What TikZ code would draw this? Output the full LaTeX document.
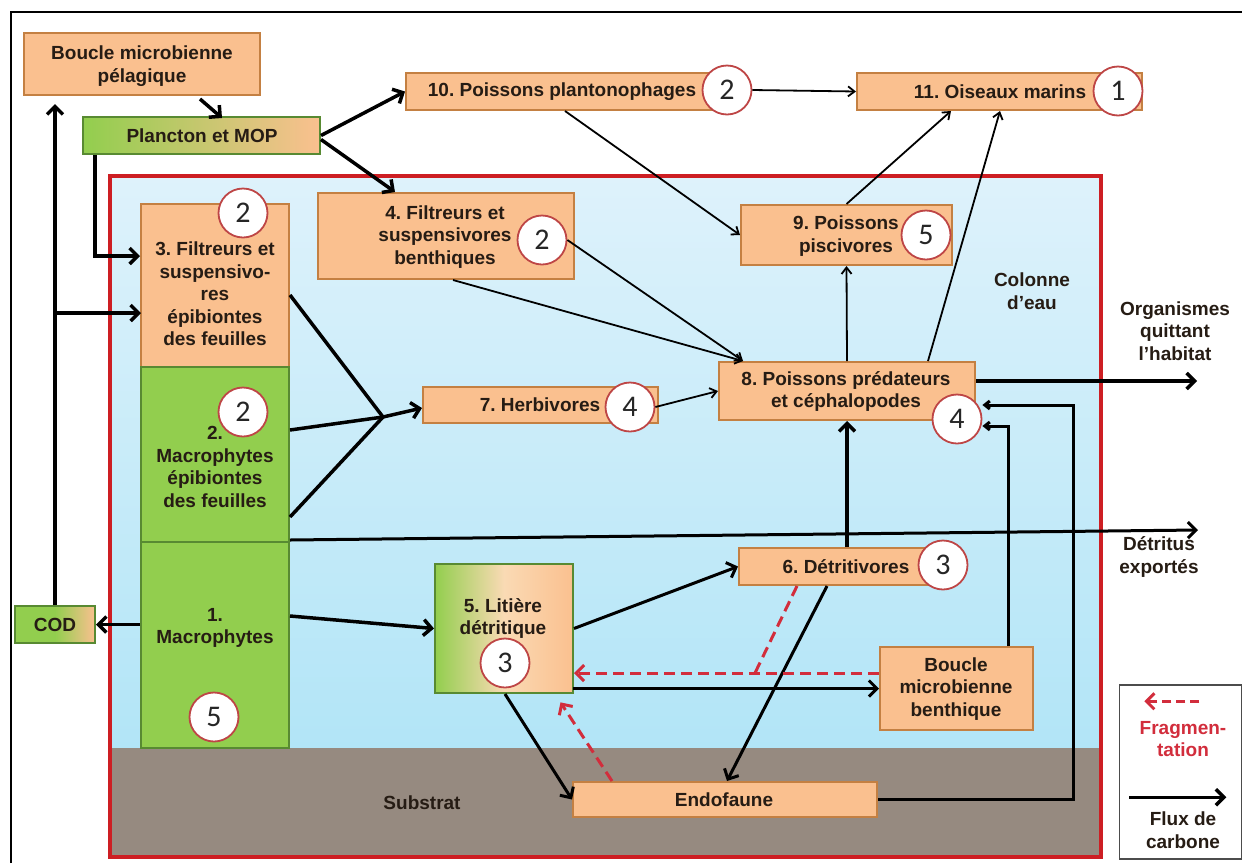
\documentclass[tikz,border=0pt]{standalone}
\usepackage{fontspec}
\setmainfont{Liberation Sans}
\newfontfamily\numfont{Carlito}
\usetikzlibrary{arrows.meta,calc}
\frenchspacing
\definecolor{orfill}{RGB}{250,192,143}
\definecolor{orbd}{RGB}{196,128,66}
\definecolor{grfill}{RGB}{146,206,78}
\definecolor{grbd}{RGB}{88,138,50}
\definecolor{peach}{RGB}{250,218,180}
\definecolor{cbd}{RGB}{190,70,70}
\definecolor{txt}{RGB}{38,28,20}
\definecolor{watertop}{RGB}{222,242,251}
\definecolor{waterbot}{RGB}{178,229,247}
\definecolor{subst}{RGB}{150,138,128}
\definecolor{redb}{RGB}{205,30,35}
\definecolor{fragc}{RGB}{210,45,60}
\begin{document}
\begin{tikzpicture}[x=1pt,y=-1pt,
  lbl/.style={font=\fontsize{19}{22.5}\selectfont\bfseries, text=txt, align=center, inner sep=0pt},
  obox/.style={draw=orbd, fill=orfill, line width=2pt, inner sep=0pt},
  gbox/.style={draw=grbd, fill=grfill, line width=2pt, inner sep=0pt},
  gobox/.style={draw=grbd, line width=2pt, inner sep=0pt, left color=grfill, right color=orfill},
  num/.style={circle, draw=cbd, fill=white, line width=1.8pt, minimum size=49pt, inner sep=0pt, font=\numfont\fontsize{30}{30}\selectfont, text=black!85},
  thk/.style={line width=3.5pt, -{Straight Barb[length=8pt,width=16pt]}},
  thn/.style={line width=1.8pt, -{Straight Barb[length=6.5pt,width=10pt]}},
  frag/.style={line width=3pt, draw=fragc, dash pattern=on 11pt off 6pt, -{Straight Barb[length=8pt,width=16pt]}},
]
\useasboundingbox (0,0) rectangle (1242,863);
\fill[white] (0,0) rectangle (1242,863);
% habitat
\shade[top color=watertop, bottom color=waterbot] (110,176) rectangle (1101,748);
\fill[subst] (110,748) rectangle (1101,857);
\draw[redb, line width=3.5pt] (110,176) rectangle (1101,857);
\draw[black, line width=2pt] (11,863) -- (11,12) -- (1242,12);

% boxes
\node[obox, minimum width=236pt, minimum height=62pt] (bmp) at (142,64) {};
\node[gobox, minimum width=237pt, minimum height=37pt] (pla) at (201.5,135.5) {};
\node[obox, minimum width=329pt, minimum height=37pt] (n10) at (570.5,91.5) {};
\node[obox, minimum width=285pt, minimum height=37pt] (n11) at (999.5,91.5) {};
\node[obox, minimum width=256pt, minimum height=86pt] (n4) at (446,236) {};
\node[obox, minimum width=211pt, minimum height=60pt] (n9) at (846.5,235) {};
\node[obox, minimum width=256pt, minimum height=58pt] (n8) at (847,391) {};
\node[obox, minimum width=235pt, minimum height=36pt] (n7) at (540.5,405) {};
\node[obox, minimum width=206pt, minimum height=37pt] (n6) at (842,566.5) {};
\node[gobox, middle color=peach, minimum width=138pt, minimum height=129pt] (n5) at (504,628.5) {};
\node[obox, minimum width=153pt, minimum height=83pt] (bmb) at (956.5,688.5) {};
\node[obox, minimum width=304pt, minimum height=35pt] (endo) at (725,799.5) {};
\node[gobox, middle color=grfill, minimum width=80pt, minimum height=37pt] (cod) at (55,624.5) {};
\node[obox, minimum width=148pt, minimum height=163pt] (col3) at (215,285.5) {};
\node[gbox, minimum width=148pt, minimum height=175pt] (col2) at (215,454.5) {};
\node[gbox, minimum width=148pt, minimum height=206pt] (col1) at (215,645) {};
\node[draw=black!70, line width=1.5pt, fill=white, minimum width=122pt, minimum height=174pt, inner sep=0pt] (leg) at (1180.5,772) {};

% texts
\node[lbl] (bmpT) at (142,66) {Boucle microbienne\\pélagique};
\node[lbl] (plaT) at (202,135.5) {Plancton et MOP};
\node[lbl] (n10T) at (562,91.5) {10. Poissons plantonophages};
\node[lbl] (n11T) at (1000,91.5) {11. Oiseaux marins};
\node[lbl] (n4T) at (445,237) {4. Filtreurs et\\suspensivores\\benthiques};
\node[lbl] (n9T) at (846,236) {9. Poissons\\piscivores};
\node[lbl] (n8T) at (846,391.5) {8. Poissons prédateurs\\et céphalopodes};
\node[lbl] (n7T) at (540,405) {7. Herbivores};
\node[lbl] (n6T) at (846,567) {6. Détritivores};
\node[lbl] (n5T) at (503,618.5) {5. Litière\\détritique};
\node[lbl] (bmbT) at (956,689) {Boucle\\microbienne\\benthique};
\node[lbl] (endoT) at (724,800) {Endofaune};
\node[lbl] (codT) at (55,625) {COD};
\node[lbl] (col3T) at (215,294) {3. Filtreurs et\\suspensivo-\\res\\épibiontes\\des feuilles};
\node[lbl] (col2T) at (215,467) {2.\\Macrophytes\\épibiontes\\des feuilles};
\node[lbl] (col1T) at (215,628) {1.\\Macrophytes};
\node[lbl] (eauT) at (1032,291) {Colonne\\d'eau};
\node[lbl] (orgT) at (1175,331) {Organismes\\quittant\\l'habitat};
\node[lbl] (detT) at (1159,557) {Détritus\\exportés};
\node[lbl] (subT) at (422,803) {Substrat};
\node[lbl, text=fragc] (fragT) at (1183,739) {Fragmen-\\tation};
\node[lbl] (fluxT) at (1183,830) {Flux de\\carbone};

% circles
\node[num] (c10) at (727,90) {2};
\node[num] (c11) at (1118,91) {1};
\node[num] (c4) at (542,240) {2};
\node[num] (c9) at (926,235) {5};
\node[num] (c8) at (957,419) {4};
\node[num] (c7) at (630,407) {4};
\node[num] (c6) at (943,565) {3};
\node[num] (c5) at (505,663) {3};
\node[num] (cc3) at (243,213) {2};
\node[num] (cc2) at (243,412) {2};
\node[num] (cc1) at (214,717) {5};

% junctions and free ends
\coordinate (J) at (383,417);
\coordinate (j3) at (141,313);
\coordinate (detx) at (1198,530);
\coordinate (orgx) at (1197,381);
\coordinate (rf) at ([yshift=15.5pt]bmb.west);
\coordinate (rj) at (755,673);

% thick carbon fluxes
\draw[thk] ([xshift=58pt,yshift=-3pt]bmp.south) -- ([xshift=20.5pt,yshift=-2pt]pla.north);
\draw[thk, shorten >=8pt] (cod.north) -- (cod.north |- bmp.south);
\draw[thk] (cod.north |- j3) -- (j3);
\draw[thk] ([xshift=-106.5pt]pla.south) |- (col3.west |- 0,256);
\draw[thk] (pla.east) -- (n10.west);
\draw[thk] ([yshift=-4pt]pla.east) -- ([xshift=-51pt]n4.north);
\draw[thk] (col1.west |- cod.east) -- (cod.east);
\draw[line width=3.5pt] (col3.east |- 0,295) -- (J);
\draw[line width=3.5pt] (col2.east |- 0,430) -- (J);
\draw[line width=3.5pt] (col2.east |- 0,517) -- (J);
\draw[thk] (J) -- ([yshift=-3pt]n7.west);
\draw[thk] ([yshift=29pt]col1.east) -- (n5.west);
\draw[thk, line width=3pt] ([yshift=3pt]col2.south east) -- (detx);
\draw[thk, line width=3pt] (n5.east) -- (n6.west);
\draw[thk, line width=3pt] ([yshift=5pt]n5.south east) -- (n5.south east |- bmb.west) -- (bmb.west);
\draw[thk] (n8.south |- n6.north) -- (n8.south);
\draw[thk, line width=3pt] ([xshift=-15pt]n6.south) -- ([xshift=2pt]endo.north);
\draw[thk, line width=3pt] ([xshift=1pt]n5.south) -- (endo.west);
\draw[thk] ([yshift=10pt]n8.east) -- (orgx);
\draw[line width=3pt, -{Straight Barb[length=5pt,width=8pt]}] (endo.east) -- ++(195,0) |- ([yshift=14pt]c8.east);
\draw[line width=3pt, -{Straight Barb[length=5pt,width=8pt]}] ([xshift=51.5pt]bmb.north) |- ([yshift=-7pt]c8.east);

% thin fluxes
\draw[thn] (c10.east) -- (n11.west);
\draw[thn] ([xshift=-5.5pt]n10.south) -- (n9.west);
\draw[thn] ([xshift=7pt]n4.south) -- ([xshift=-104pt]n8.north);
\draw[thn] (c4.east) -- ([xshift=-104pt]n8.north);
\draw[thn] (c7.east) -- (n8.west);
\draw[thn] (n8.north) -- (n9.south);
\draw[thn] (n9.north) -- ([xshift=-48.5pt]n11.south);
\draw[thn] ([xshift=81pt]n8.north) -- ([xshift=0.5pt]n11.south);

% fragmentation
\draw[frag] (rf) -- (rf -| n5.east);
\draw[line width=3pt, draw=fragc, dash pattern=on 11pt off 6pt] ([xshift=-45pt]n6.south) -- (rj);
\draw[frag, shorten >=10pt] ([xshift=-113pt]endo.north) -- ([xshift=51pt]n5.south);

% legend
\draw[frag, dash pattern=on 9pt off 5pt] ($(leg.north west)+(80.5,17)$) -- ($(leg.north west)+(25.5,17)$);
\draw[thk] ($(leg.north west)+(10.5,113)$) -- ($(leg.north west)+(107.5,113)$);
\end{tikzpicture}
\end{document}
